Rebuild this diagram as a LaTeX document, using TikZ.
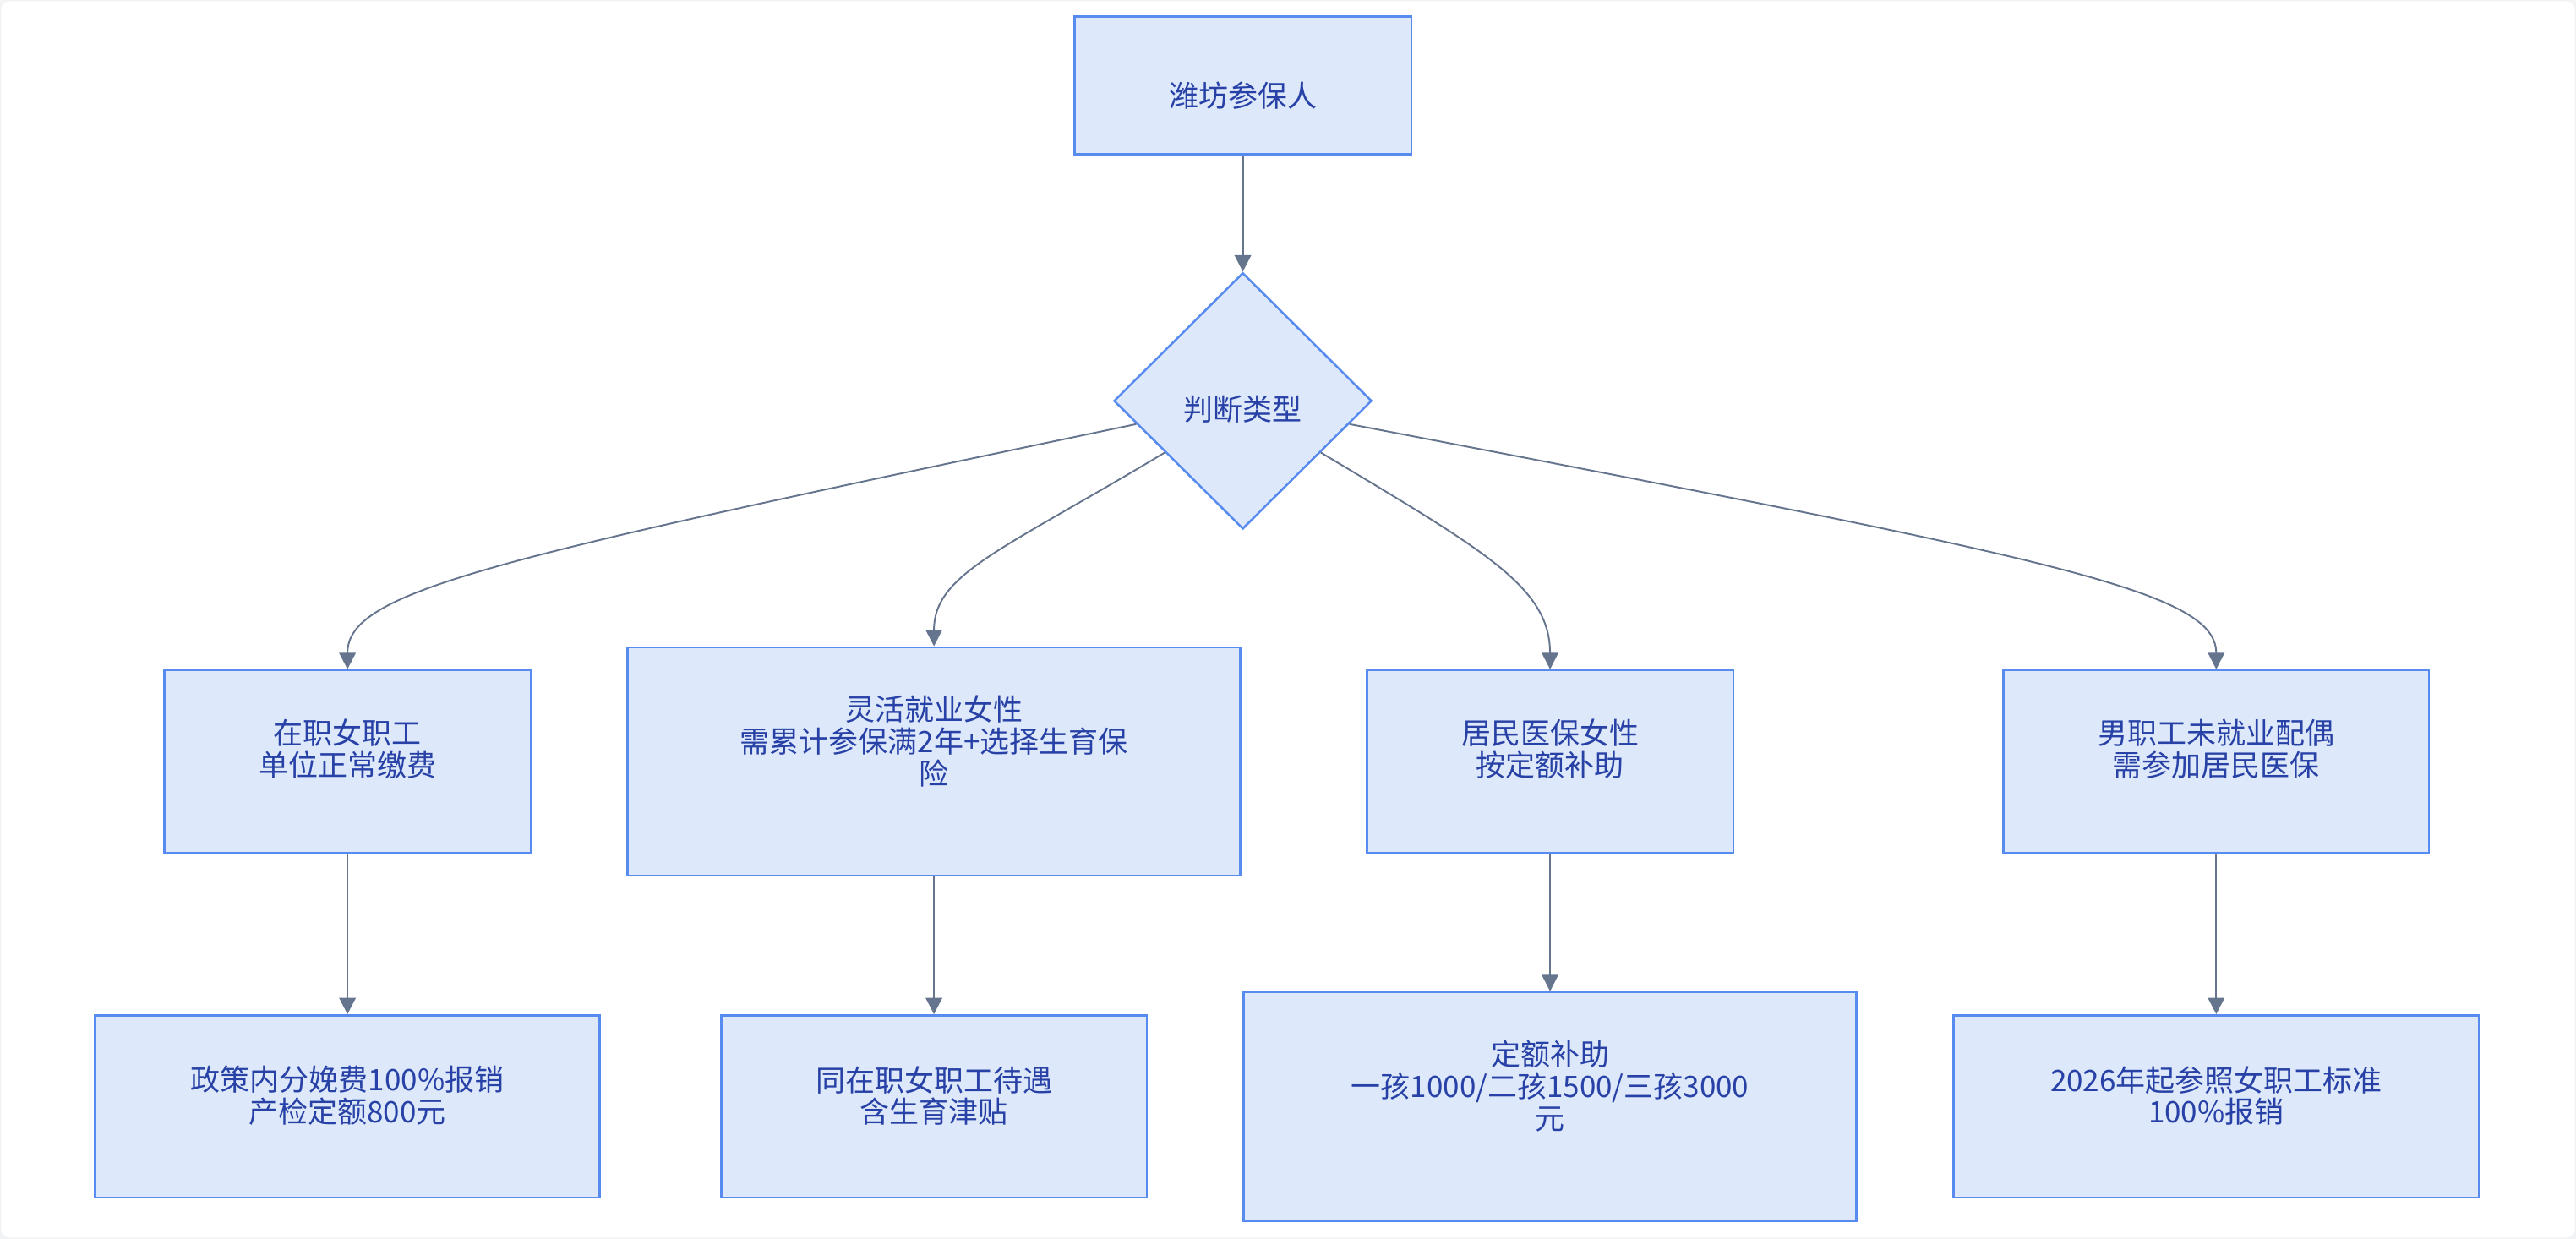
\documentclass[tikz,border=0pt]{standalone}
\usepackage{fontspec}
\setmainfont{Noto Sans CJK SC}
\usetikzlibrary{shapes.geometric,arrows.meta,calc}
\definecolor{boxfill}{HTML}{DDE8FA}
\definecolor{boxline}{HTML}{588BF0}
\definecolor{txtcol}{HTML}{2741A6}
\definecolor{edgecol}{HTML}{66758E}
\definecolor{pagebg}{HTML}{F2F3F5}
\begin{document}
\begin{tikzpicture}[x=1pt,y=-1pt,
  box/.style={draw=boxline, fill=boxfill, line width=1.3pt, inner sep=0pt, rectangle},
  dia/.style={draw=boxline, fill=boxfill, line width=1.3pt, diamond, inner sep=0pt, aspect=1},
  lbl/.style={text=txtcol, align=center, inner sep=0pt, font=\fontsize{18}{19.5}\selectfont},
  conn/.style={draw=edgecol, line width=1pt, -{Triangle[length=10pt,width=10pt]}}]
\fill[pagebg] (0,0) rectangle (1568,754);
\fill[white, rounded corners=5pt] (0.7,0.7) rectangle (1567.3,753.3);
\useasboundingbox (0,0) rectangle (1568,754);

% top
\node[box, minimum width=205, minimum height=84] (top) at (756.5,52) {};
\node[lbl] (toptxt) at (756.5,58) {潍坊参保人};
% decision
\node[dia, minimum width=157, minimum height=156] (d0) at (756.5,244) {};
\node[lbl] (d0txt) at (756.5,249) {判断类型};

% row 2
\node[box, minimum width=223, minimum height=111] (a) at (211.5,463.5) {};
\node[lbl] (atxt) at (211.5,456) {在职女职工\\单位正常缴费};
\node[box, minimum width=373, minimum height=139] (b) at (568.5,463.5) {};
\node[lbl] (btxt) at (568.5,451) {灵活就业女性\\需累计参保满2年+选择生育保\\险};
\node[box, minimum width=223, minimum height=111] (c) at (943.5,463.5) {};
\node[lbl] (ctxt) at (943.5,456) {居民医保女性\\按定额补助};
\node[box, minimum width=259, minimum height=111] (d) at (1349,463.5) {};
\node[lbl] (dtxt) at (1349,456) {男职工未就业配偶\\需参加居民医保};

% row 3
\node[box, minimum width=307, minimum height=111] (e) at (211.5,673.5) {};
\node[lbl] (etxt) at (211.5,667) {政策内分娩费100\%报销\\产检定额800元};
\node[box, minimum width=259, minimum height=111] (f) at (568.5,673.5) {};
\node[lbl] (ftxt) at (568.5,667) {同在职女职工待遇\\含生育津贴};
\node[box, minimum width=373, minimum height=139] (g) at (943.5,673.5) {};
\node[lbl] (gtxt) at (943.5,661) {定额补助\\一孩1000/二孩1500/三孩3000\\元};
\node[box, minimum width=320, minimum height=111] (h) at (1349,673.5) {};
\node[lbl] (htxt) at (1349,667) {2026年起参照女职工标准\\100\%报销};

% connectors
\draw[conn] (top.south) -- (d0.north);
\coordinate (sa) at ($(d0.west)!0.18!(d0.south)$);
\coordinate (sb) at ($(d0.west)!0.40!(d0.south)$);
\coordinate (sc) at ($(d0.east)!0.40!(d0.south)$);
\coordinate (sd) at ($(d0.east)!0.18!(d0.south)$);
\draw[conn] (sa) .. controls +(-393,82) and +(0,-48) .. (a.north);
\draw[conn] (sb) .. controls +(-100,60) and +(0,-44) .. (b.north);
\draw[conn] (sc) .. controls +(100,60) and +(0,-50) .. (c.north);
\draw[conn] (sd) .. controls +(429,82) and +(0,-48) .. (d.north);

\draw[conn] (a.south) -- (e.north);
\draw[conn] (b.south) -- (f.north);
\draw[conn] (c.south) -- (g.north);
\draw[conn] (d.south) -- (h.north);
\end{tikzpicture}
\end{document}
